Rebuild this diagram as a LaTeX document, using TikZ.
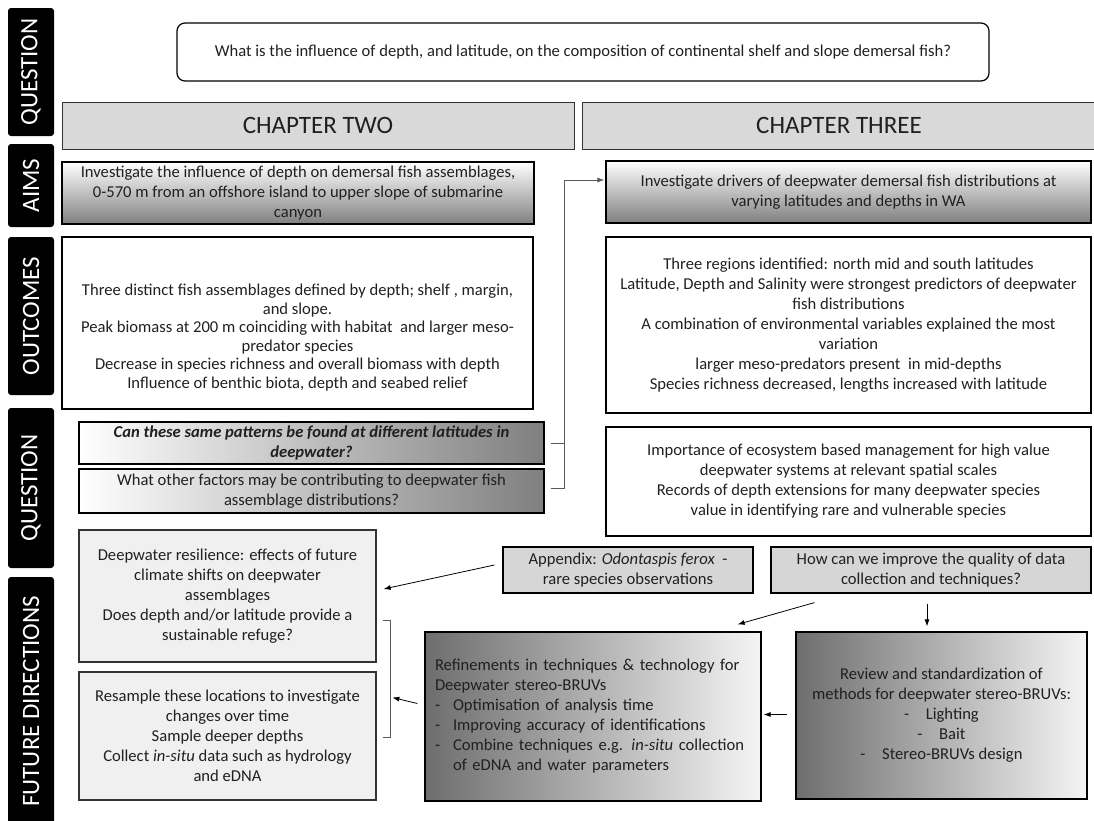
\documentclass[tikz,border=0pt]{standalone}
\usepackage{fontspec}
\setmainfont{Carlito}
\usetikzlibrary{calc,arrows.meta,positioning}
\definecolor{inkgray}{HTML}{202020}

\begin{document}
\begin{tikzpicture}[x=1pt,y=-1pt,
  every node/.style={text=inkgray},
  tab/.style={fill=black,rounded corners=3pt,text=white,rotate=90,minimum height=46pt,inner sep=0pt,font=\fontsize{25}{25}\selectfont},
  box/.style={draw=black,line width=1.2pt,align=center,inner sep=0pt,font=\fontsize{16.6}{20}\selectfont},
  chapterbox/.style={draw=black!80,line width=1pt,fill=black!15,inner sep=0pt,font=\fontsize{25}{25}\selectfont},
  fadedown/.style={box,top color=white,bottom color=black!50},
  faderight/.style={box,left color=white,right color=black!50},
  fadeleft/.style={box,left color=black!57,right color=black!4},
  lightbox/.style={box,fill=black!6,draw=black!80},
  greybox/.style={box,fill=black!16},
  arr/.style={-{Latex[length=7pt,width=5pt]},line width=0.8pt},
  bracket/.style={draw=black!65,line width=0.9pt}]
  \useasboundingbox (0,0) rectangle (1094,820);

  \foreach \tabname/\ypos/\len/\word in {qtop/72/128/QUESTION,aims/185.5/83/AIMS,outc/316/158/OUTCOMES,qmid/488/160/QUESTION,futr/701.5/249/FUTURE DIRECTIONS}
    \node[tab,minimum width=\len*1pt] (\tabname) at (31,\ypos) {\word};

  \node[box,rounded corners=8pt,minimum width=812pt,minimum height=58pt] (main) at (583,52)
    {What is the influence of depth, and latitude, on the composition of continental shelf and slope demersal fish?};

  \node[chapterbox,minimum width=512pt,minimum height=47pt] (ch2) at (318,125.5) {CHAPTER TWO};
  \node[chapterbox,minimum width=514pt,minimum height=47pt] (ch3) at (839,125.5) {CHAPTER THREE};

  \node[fadedown,minimum width=472pt,minimum height=62pt] (aimL) at (298,193)
    {Investigate the influence of depth on demersal fish assemblages,\\
     0-570 m from an offshore island to upper slope of submarine\\
     canyon};
  \node[fadedown,minimum width=485pt,minimum height=62pt] (aimR) at (848.5,192)
    {Investigate drivers of deepwater demersal fish distributions at\\
     varying latitudes and depths in WA};

  \node[box,minimum width=471pt,minimum height=172pt,font=\fontsize{16.6}{18.5}\selectfont] (outL) at (297.5,323)
    {\mbox{}\\[22pt]
     Three distinct fish assemblages defined by depth; shelf , margin,\\
     and slope.\\
     Peak biomass at 200 m coinciding with habitat \ and larger meso-\\
     predator species\\
     Decrease in species richness and overall biomass with depth\\
     Influence of benthic biota, depth and seabed relief};
  \node[box,minimum width=485pt,minimum height=176pt] (outR) at (848.5,325)
    {Three regions identified: north mid and south latitudes\\
     Latitude, Depth and Salinity were strongest predictors of deepwater\\
     fish distributions\\
     A combination of environmental variables explained the most\\
     variation\\
     larger meso-predators present \ in mid-depths\\
     Species richness decreased, lengths increased with latitude};

  \node[faderight,minimum width=465pt,minimum height=42pt,font=\fontsize{16.6}{20}\selectfont\bfseries\itshape] (can) at (311.5,443)
    {Can these same patterns be found at different latitudes in\\
     deepwater?};
  \node[faderight,minimum width=465pt,minimum height=44pt] (what) at (311.5,491)
    {What other factors may be contributing to deepwater fish\\
     assemblage distributions?};
  \node[box,minimum width=485pt,minimum height=109pt] (imp) at (848.5,481.5)
    {Importance of ecosystem based management for high value\\
     deepwater systems at relevant spatial scales\\
     Records of depth extensions for many deepwater species\\
     value in identifying rare and vulnerable species};

  \node[greybox,minimum width=250pt,minimum height=46pt] (app) at (628,570)
    {Appendix: \textit{Odontaspis ferox} \ -\\
     rare species observations};
  \node[greybox,minimum width=320pt,minimum height=46pt] (how) at (931,570)
    {How can we improve the quality of data\\
     collection and techniques?};

  \node[lightbox,minimum width=297pt,minimum height=132pt] (res) at (227.5,596)
    {Deepwater resilience: effects of future\\
     climate shifts on deepwater\\
     assemblages\\
     Does depth and/or latitude provide a\\
     sustainable refuge?};
  \node[lightbox,minimum width=297pt,minimum height=128pt] (resam) at (227.5,736)
    {Resample these locations to investigate\\
     changes over time\\
     Sample deeper depths\\
     Collect \textit{in-situ} data such as hydrology\\
     and eDNA};

  \node[fadeleft,minimum width=336pt,minimum height=169pt,text width=316pt,align=left,inner xsep=10pt] (refine) at (593,716.5)
    {Refinements in techniques \& technology for\\
     Deepwater stereo-BRUVs\\
     \makebox[18pt][l]{-}Optimisation of analysis time\\
     \makebox[18pt][l]{-}Improving accuracy of identifications\\
     \makebox[18pt][l]{-}Combine techniques e.g. \textit{in-situ} collection\\
     \hspace*{18pt}of eDNA and water parameters};
  \node[fadeleft,minimum width=291pt,minimum height=167pt] (review) at (941.5,715.5)
    {Review and standardization of\\
     methods for deepwater stereo-BRUVs:\\
     -\quad Lighting\\
     -\quad Bait\\
     -\quad Stereo-BRUVs design};

  \draw[bracket] ($(can.east)+(6,0)$) -- ++(14,0);
  \draw[bracket,arr] ($(what.east)+(6,-3)$) -- ++(14,0) |- ($(aimR.west)+(-1,-12)$);
  \draw[arr] ($(app.west)+(-8,-5)$) -- ($(res.east)+(7,-7)$);
  \draw[bracket] ($(res.east)+(6,24)$) -- ++(8,0) |- ($(resam.east)+(6,1)$);
  \draw[arr] ($(refine.west)+(-7,-13)$) -- ($(refine.west)+(-32,-19)$);
  \draw[arr] ($(how.south west)+(44,9)$) -- ($(refine.north east)+(-24,-7)$);
  \draw[arr] ($(how.south)+(-4,10)$) -- ($(review.north -| how.south)+(-4,-5)$);
  \draw[arr] ($(review.west)+(-8,-1)$) -- ($(refine.east)+(2,-2)$);
\end{tikzpicture}
\end{document}
